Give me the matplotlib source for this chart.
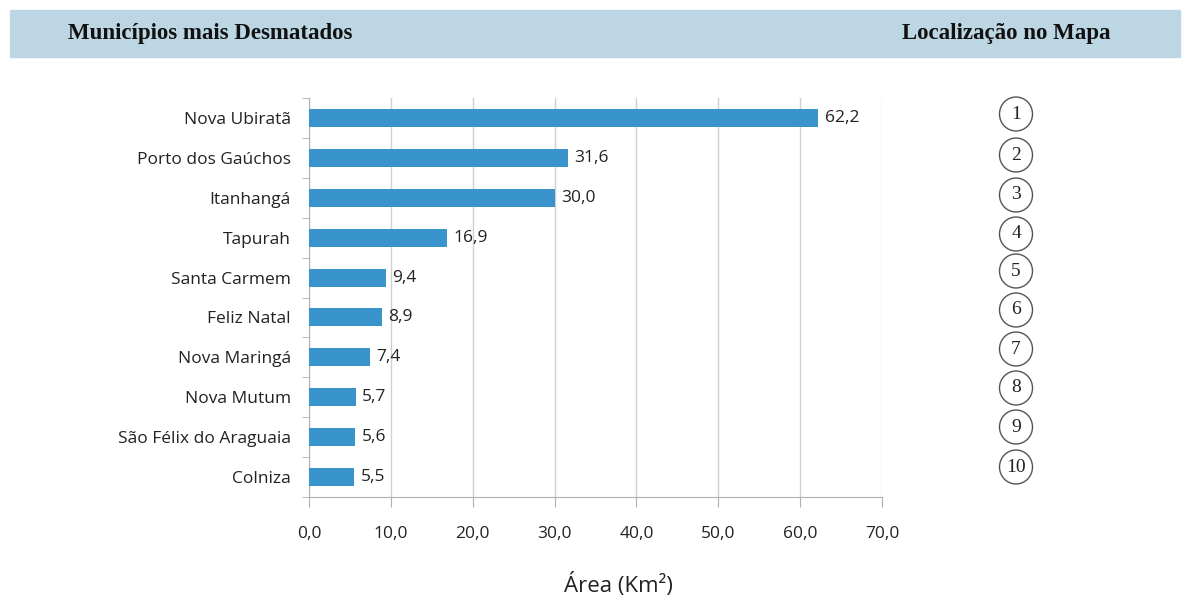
import matplotlib
matplotlib.use("Agg")
import matplotlib.pyplot as plt
from matplotlib.patches import Rectangle, Ellipse

# data
MUNICIPIOS = [
    "Nova Ubiratã", "Porto dos Gaúchos", "Itanhangá", "Tapurah", "Santa Carmem",
    "Feliz Natal", "Nova Maringá", "Nova Mutum", "São Félix do Araguaia", "Colniza",
]
AREAS = [62.2, 31.6, 30.0, 16.9, 9.4, 8.9, 7.4, 5.7, 5.6, 5.5]
MAP_NUMBERS = [str(i) for i in range(1, 11)]
X_TICKS = [0, 10, 20, 30, 40, 50, 60, 70]

BAR_COLOR = "#3a94cc"
GRID_COLOR = "#d0d0d0"
HEADER_COLOR = "#bcd7e3"
TEXT_FONT = ["Open Sans", "DejaVu Sans"]
HEAD_FONT = ["Liberation Serif", "DejaVu Serif"]

W, H = 1192, 601


def fx(px):
    return px / W


def fy(py):
    return 1 - py / H


def fmt(v):
    return f"{v:.1f}".replace(".", ",")


fig = plt.figure(figsize=(W / 100, H / 100), dpi=100)

# header band
fig.add_artist(Rectangle((fx(10), fy(57)), fx(1180) - fx(10), fy(10) - fy(57),
                         transform=fig.transFigure, color=HEADER_COLOR, zorder=0))
fig.text(fx(68), fy(34), "Municípios mais Desmatados", family=HEAD_FONT,
         weight="bold", fontsize=16.5, va="center", ha="left", color="#111111")
fig.text(fx(1110), fy(34), "Localização no Mapa", family=HEAD_FONT,
         weight="bold", fontsize=16.5, va="center", ha="right", color="#111111")

ax = fig.add_axes([fx(309), fy(497), fx(882) - fx(309), fy(98) - fy(497)])
ypos = list(range(len(MUNICIPIOS)))
ax.barh(ypos, AREAS, height=0.45, color=BAR_COLOR, zorder=3)
for y, v in zip(ypos, AREAS):
    ax.text(v + 0.8, y, fmt(v), va="center", ha="left", fontsize=12.5,
            family=TEXT_FONT, color="#222222")

ax.set_xlim(0, 70)
ax.set_ylim(len(MUNICIPIOS) - 0.5, -0.5)
ax.set_xticks(X_TICKS)
ax.set_xticklabels([fmt(t) for t in X_TICKS], family=TEXT_FONT, fontsize=12.5, color="#222222")
ax.set_yticks(ypos)
ax.set_yticklabels(MUNICIPIOS, family=TEXT_FONT, fontsize=12.5, color="#222222")
ax.tick_params(axis="y", length=0, pad=13)
ax.tick_params(axis="x", length=7, color="#b0b0b0", direction="out", pad=14)
# separator ticks between categories on the left spine
ax.set_yticks([y + 0.5 for y in [-1] + ypos], minor=True)
ax.tick_params(axis="y", which="minor", length=5, color="#b0b0b0")

ax.grid(axis="x", color=GRID_COLOR, linewidth=1, zorder=0)
for s in ["top", "right"]:
    ax.spines[s].set_visible(False)
for s in ["left", "bottom"]:
    ax.spines[s].set_color("#b0b0b0")
fig.text(fx(618), fy(585), "Área (Km²)", family=TEXT_FONT, fontsize=16,
         ha="center", va="center", color="#222222")

# circled map numbers
circle_y = [114, 155, 195, 234, 271, 310, 349, 388, 427, 467]
for num, cy in zip(MAP_NUMBERS, circle_y):
    fig.add_artist(Ellipse((fx(1016), fy(cy)), fx(33), 34 / H, transform=fig.transFigure,
                           fill=False, edgecolor="#555555", linewidth=1))
    fig.text(fx(1016), fy(cy), num, family=HEAD_FONT, fontsize=14,
             ha="center", va="center", color="#222222")

fig.savefig("out.png", dpi=100, facecolor="white")
